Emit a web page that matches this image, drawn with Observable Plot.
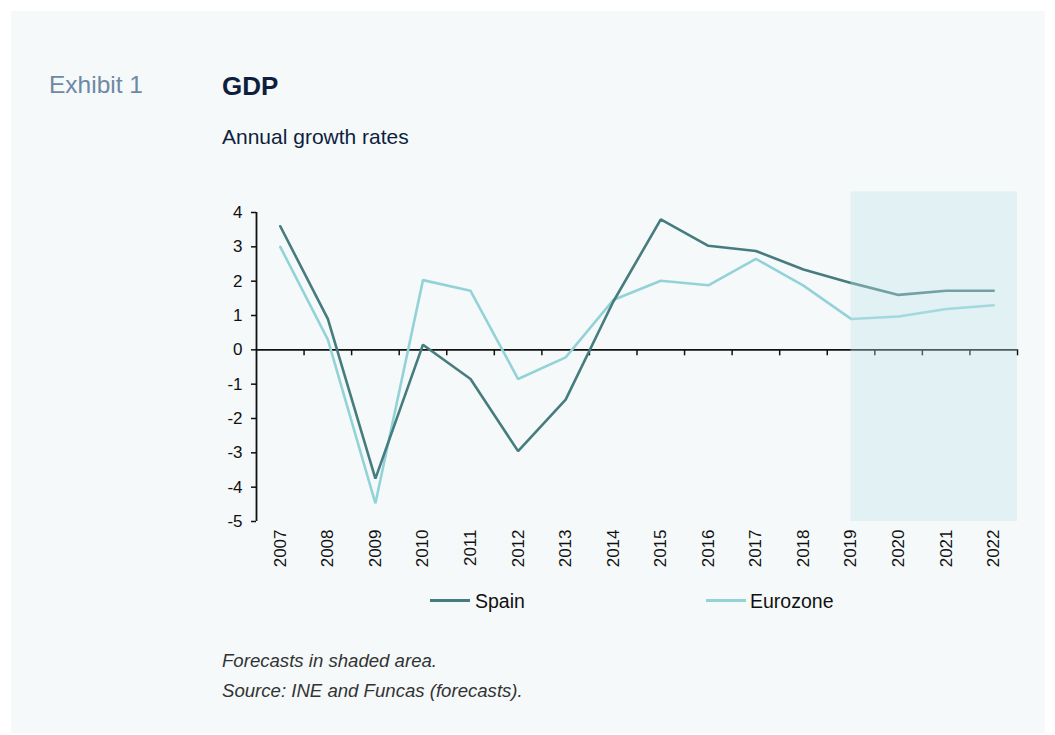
<!DOCTYPE html>
<html>
<head>
<meta charset="utf-8">
<script src="https://cdn.jsdelivr.net/npm/d3@7"></script>
<script src="https://cdn.jsdelivr.net/npm/@observablehq/plot@0.6"></script>
<style>
  html, body { margin: 0; padding: 0; background: #ffffff; width: 1055px; height: 735px; overflow: hidden; font-family: "Liberation Sans", Arial, sans-serif; }
  #panel { position: absolute; left: 11px; top: 11px; width: 1034px; height: 722px; background: #f5f9fa; }
  .abs { position: absolute; white-space: nowrap; line-height: 1; }
  #chart { position: absolute; left: 0; top: 0; }
  .key { position: absolute; height: 3px; }
</style>
</head>
<body>
<div id="panel"></div>
<div class="abs" style="left:49px;top:72.5px;font-size:24.5px;color:#6f88a4;">Exhibit 1</div>
<div class="abs" style="left:222px;top:73px;font-size:26px;font-weight:bold;color:#0e1f3d;">GDP</div>
<div class="abs" style="left:222px;top:125.5px;font-size:21px;color:#0e1f3d;">Annual growth rates</div>
<div id="chart"></div>
<div class="key" style="left:430px;top:599.3px;width:40px;background:#467c7e;"></div>
<div class="abs" style="left:475px;top:592px;font-size:19.5px;color:#111;">Spain</div>
<div class="key" style="left:706px;top:599.3px;width:40px;background:#93d3d8;"></div>
<div class="abs" style="left:750px;top:592px;font-size:19.5px;color:#111;">Eurozone</div>
<div class="abs" style="left:222px;top:652.3px;font-size:18.6px;font-style:italic;color:#333;">Forecasts in shaded area.</div>
<div class="abs" style="left:222px;top:682.3px;font-size:18.6px;font-style:italic;color:#333;">Source: INE and Funcas (forecasts).</div>
<script>
const years = [2007,2008,2009,2010,2011,2012,2013,2014,2015,2016,2017,2018,2019,2020,2021,2022];
const spain = [3.6,0.9,-3.75,0.15,-0.85,-2.95,-1.45,1.4,3.8,3.03,2.88,2.34,1.95,1.6,1.72,1.72];
const eurozone = [3.0,0.3,-4.47,2.03,1.72,-0.85,-0.22,1.45,2.01,1.88,2.65,1.87,0.9,0.97,1.19,1.3];
const yTicks = [-5,-4,-3,-2,-1,0,1,2,3,4];
const forecastStart = 2019;
const shadeTop = 4.6;

const spainData = years.map((y,i) => ({year:y, value:spain[i]}));
const euroData = years.map((y,i) => ({year:y, value:eurozone[i]}));
const boundaries = years.map(y => y + 0.5);

const plot = Plot.plot({
  width: 1055,
  height: 600,
  marginLeft: 256,
  marginRight: 38,
  marginTop: 212,
  marginBottom: 79,
  style: {background: "transparent", fontFamily: "'Liberation Sans', Arial, sans-serif", fontSize: "16.5px", color: "#111"},
  x: {domain: [years[0]-0.5, years[years.length-1]+0.5], axis: null},
  y: {domain: [-5, 4], axis: null},
  marks: [
    Plot.axisY(yTicks, {tickSize: 5, tickPadding: 9, stroke: "#111", strokeWidth: 1.5, fill: "#111", fontSize: 17, tickFormat: d => d < 0 ? "-" + Math.abs(d) : String(d)}),
    Plot.ruleX([years[0]-0.5], {y1: -5, y2: 4, stroke: "#111", strokeWidth: 1.8}),
    Plot.ruleY([0], {stroke: "#111", strokeWidth: 1.8}),
    Plot.ruleX(boundaries, {y1: 0, y2: 0, insetBottom: -6, stroke: "#111", strokeWidth: 1.5}),
    Plot.text(years, {x: d => d, y: -5, text: d => String(d), rotate: -90, textAnchor: "end", dy: 8, fontSize: 17, fill: "#111"}),
    Plot.line(euroData, {x: "year", y: "value", stroke: "#93d3d8", strokeWidth: 2.6, strokeLinejoin: "miter"}),
    Plot.line(spainData, {x: "year", y: "value", stroke: "#467c7e", strokeWidth: 2.6, strokeLinejoin: "miter"}),
    Plot.rect([{x1: forecastStart, x2: years[years.length-1]+0.5, y1: -5, y2: shadeTop}], {x1: "x1", x2: "x2", y1: "y1", y2: "y2", fill: "#bfe3ea", fillOpacity: 0.36})
  ]
});
document.getElementById("chart").appendChild(plot);
</script>
</body>
</html>
